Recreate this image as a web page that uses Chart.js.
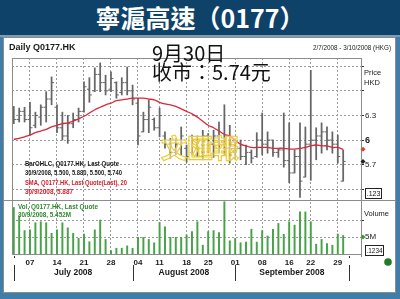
<!DOCTYPE html>
<html>
<head>
<meta charset="utf-8">
<script src="https://cdn.jsdelivr.net/npm/chart.js@4/dist/chart.umd.min.js"></script>
<style>
  body { margin:0; width:400px; height:299px; background:#3f7dab; overflow:hidden; position:relative; }
  #title { position:absolute; left:0; top:0; width:400px; height:35px; background:#0e4268; color:#fff;
           font:bold 25px "Noto Sans CJK TC", sans-serif; text-align:center; line-height:35px; border-bottom:2px solid #7c9db6; }
  #panel { position:absolute; left:3px; top:37px; width:391px; height:254px; background:#fff; border:1px solid #8c8c8c; }
  #chart { position:absolute; left:0; top:0; }
</style>
</head>
<body>
<div id="title">寧滬高速（0177）</div>
<div id="panel"></div>
<canvas id="chart" width="400" height="299"></canvas>
<script>
const code = 'Q0177.HK';
const watermark = '文匯報';

// trading days, d/m (2008)
const dates = [
  '2/7','3/7','4/7','7/7','8/7','9/7','10/7','11/7','14/7','15/7','16/7','17/7','18/7',
  '21/7','22/7','23/7','24/7','25/7','28/7','29/7','30/7','31/7',
  '1/8','4/8','5/8','7/8','8/8','11/8','12/8','13/8','14/8','15/8','18/8','19/8','20/8','21/8',
  '25/8','26/8','27/8','28/8','29/8',
  '1/9','2/9','3/9','4/9','5/9','8/9','9/9','10/9','11/9','12/9','16/9','17/9','18/9','19/9',
  '22/9','23/9','24/9','25/9','26/9','29/9','30/9'
];
const weekTicks = ['7/7','14/7','21/7','28/7','4/8','11/8','18/8','25/8','1/9','8/9','16/9','22/9','29/9'];
const months = ['July 2008', 'August 2008', 'September 2008'];

const open  = [6.30,6.25,6.35,6.25,6.18,6.28,6.40,6.50,6.40,6.15,6.05,6.20,6.25,6.35,6.62,6.60,6.80,6.70,6.62,6.70,6.58,6.70,
               6.60,6.45,6.10,6.25,6.25,6.15,6.05,5.95,5.85,5.95,5.90,5.85,6.00,5.90,6.05,5.95,6.05,5.95,5.90,
               5.85,5.90,5.80,5.85,5.80,6.00,5.95,6.00,5.85,5.88,5.75,5.60,5.80,5.55,5.95,6.00,6.05,6.10,6.00,5.95,5.50];
const high  = [6.41,6.39,6.40,6.46,6.34,6.43,6.59,6.77,6.43,6.34,6.30,6.33,6.39,6.71,6.76,6.88,6.94,6.79,6.83,6.71,6.76,6.89,
               6.67,6.51,6.34,6.49,6.27,6.39,6.10,6.02,6.02,6.16,5.94,6.06,6.05,6.12,6.08,6.12,6.22,6.43,6.18,
               5.98,6.00,5.94,5.88,6.09,6.33,6.10,6.00,5.90,6.33,6.21,5.88,6.21,6.16,6.85,6.15,6.21,6.16,6.10,6.06,5.88];
const low   = [6.20,6.22,6.22,6.06,6.15,6.18,6.22,6.43,6.09,6.00,5.96,6.15,6.22,6.34,6.46,6.59,6.59,6.55,6.59,6.51,6.55,6.55,
               6.43,5.94,6.10,6.09,6.12,6.04,5.90,5.78,5.82,5.82,5.73,5.82,5.80,5.76,5.85,5.79,5.84,5.82,5.72,
               5.78,5.76,5.70,5.72,5.79,5.82,5.84,5.80,5.79,5.67,5.48,5.60,5.30,5.55,5.51,5.76,5.84,5.88,5.84,5.72,5.50];
const close = [6.25,6.35,6.25,6.15,6.30,6.40,6.50,6.70,6.15,6.05,6.20,6.25,6.35,6.65,6.55,6.80,6.70,6.60,6.75,6.55,6.70,6.60,
               6.50,6.05,6.25,6.40,6.15,6.30,5.95,5.85,5.95,6.05,5.80,6.00,5.90,6.05,5.95,6.05,5.95,5.90,5.85,
               5.90,5.80,5.85,5.78,6.00,5.95,6.00,5.85,5.88,5.75,5.60,5.80,5.50,5.95,6.00,6.05,6.10,6.00,5.95,5.80,5.74];
const sma20 = [6.01,6.02,6.04,6.06,6.09,6.11,6.13,6.16,6.18,6.20,6.21,6.23,6.26,6.29,6.33,6.37,6.40,6.43,6.45,6.48,6.49,6.50,
               6.51,6.51,6.51,6.50,6.49,6.46,6.44,6.43,6.41,6.38,6.35,6.32,6.28,6.23,6.18,6.15,6.11,6.07,6.05,
               6.00,5.95,5.93,5.91,5.91,5.91,5.91,5.90,5.90,5.90,5.89,5.89,5.90,5.91,5.93,5.94,5.93,5.93,5.91,5.91,5.887];
// volume, millions of shares
const volume = [13.7,11.2,6.9,7.1,9.2,9.5,9.2,6.1,7.1,9.2,7.7,6.1,4.6,5.9,3.6,7.1,10.0,4.3,1.0,1.7,1.7,2.4,
                1.7,4.9,4.9,4.3,3.3,9.3,8.0,4.9,4.9,4.9,5.6,6.6,9.5,2.6,6.6,6.9,6.3,15.4,3.9,
                4.6,3.3,3.5,7.3,3.5,6.9,5.3,7.3,9.0,5.8,9.5,8.5,12.4,12.4,9.5,2.9,4.3,3.1,2.6,5.9,5.452];

const priceTicks  = [5.4, 5.7, 6.0, 6.3, 6.6, 6.9];
const priceLabels = ['', '5.7', '6', '6.3', '', ''];
const volTicks  = [5, 10];
const volLabels = ['5M', ''];

const idx = dates.map((d, i) => i);
const tickIdx = weekTicks.map(d => dates.indexOf(d));
const tickText = weekTicks.map(d => d.split('/')[0].padStart(2, '0'));
const lastDate = dates[dates.length - 1] + '/2008';

Chart.defaults.font.family = 'Arial, "Liberation Sans", sans-serif';
Chart.defaults.color = '#1a1a1a';

function txt(ctx, s, x, y, font, color, maxW, align) {
  ctx.font = font;
  ctx.fillStyle = color;
  ctx.textAlign = align || 'left';
  ctx.textBaseline = 'middle';
  if (maxW) ctx.fillText(s, x, y, maxW); else ctx.fillText(s, x, y);
}

function diamond(ctx, x, y, r, color) {
  ctx.fillStyle = color;
  ctx.beginPath();
  ctx.moveTo(x, y - r); ctx.lineTo(x + r, y); ctx.lineTo(x, y + r); ctx.lineTo(x - r, y);
  ctx.closePath();
  ctx.fill();
}

const decor = {
  id: 'decor',
  afterDatasetsDraw(chart) {
    const ctx = chart.ctx;
    ctx.save();
    ctx.font = 'bold 26px "Noto Sans CJK TC"';
    ctx.textBaseline = 'middle';
    ctx.fillStyle = 'rgba(255,255,255,0.55)';
    ctx.fillText(watermark, 161, 148);
    ctx.lineWidth = 1.1;
    ctx.strokeStyle = '#efcb2a';
    ctx.strokeText(watermark, 161, 148);
    ctx.restore();
  },
  afterDraw(chart) {
    const {ctx, chartArea: a, scales: {x, y, yv}} = chart;
    const n = close.length - 1;
    ctx.save();

    // frame lines
    ctx.strokeStyle = '#8c8c8c';
    ctx.lineWidth = 1;
    ctx.beginPath();
    ctx.moveTo(a.left + 0.5, a.top + 0.5); ctx.lineTo(a.right, a.top + 0.5);
    ctx.moveTo(a.left + 0.5, a.top); ctx.lineTo(a.left + 0.5, a.bottom);
    ctx.moveTo(4, Math.round(yv.top) + 0.5); ctx.lineTo(395, Math.round(yv.top) + 0.5);
    ctx.moveTo(a.right + 0.5, a.bottom); ctx.lineTo(a.right + 0.5, a.bottom + 3);
    ctx.stroke();

    // headers
    txt(ctx, 'Daily ' + code, 9, 48, 'bold 9px Arial', '#1a1a1a');
    txt(ctx, '2/7/2008 - 3/10/2008 (HKG)', 391, 48, '7px Arial', '#1a1a1a', 78, 'right');
    txt(ctx, 'Price', 364, 73, '7.5px Arial', '#1a1a1a');
    txt(ctx, 'HKD', 364, 83, '7.5px Arial', '#1a1a1a');
    txt(ctx, 'Volume', 364, 214, '7.5px Arial', '#1a1a1a');

    // study legends
    const f = 'bold 7.5px Arial';
    txt(ctx, 'BarOHLC, ' + code + ', Last Quote', 25, 164, f, '#1a1a1a', 94);
    txt(ctx, lastDate + ', ' + [open[n], high[n], low[n], close[n]].map(v => v.toFixed(3)).join(', '), 25, 173, f, '#1a1a1a', 97);
    txt(ctx, 'SMA, ' + code + ', Last Quote(Last), 20', 25, 183, f, '#d0202e', 102);
    txt(ctx, lastDate + ', ' + sma20[n].toFixed(3), 25, 192, f, '#d0202e', 48);
    txt(ctx, 'Vol, ' + code + ', Last Quote', 18, 207, f, '#2e8a2e', 80);
    txt(ctx, lastDate + ', ' + volume[n].toFixed(3) + 'M', 18, 215, f, '#2e8a2e', 53);

    // last-value markers on the right axis
    diamond(ctx, 363, y.getPixelForValue(sma20[n]), 2.5, '#e0402a');
    diamond(ctx, 363, y.getPixelForValue(close[n]), 2.5, '#222');
    diamond(ctx, 363, yv.getPixelForValue(5), 2.5, '#3a9a3a');

    // boxed readouts
    ctx.strokeStyle = '#222';
    ctx.strokeRect(365.5, 188.5, 16, 10);
    txt(ctx, '.123', 373.5, 194, '7px Arial', '#111', 14, 'center');
    ctx.strokeRect(365.5, 245.5, 18, 10);
    txt(ctx, '.1234', 374.5, 251, '7px Arial', '#111', 16, 'center');

    // month labels and separators
    const starts = months.map((m, k) => dates.findIndex(d => +d.split('/')[1] === 7 + k));
    starts.push(dates.length);
    ctx.strokeStyle = '#333';
    ctx.beginPath();
    starts.forEach(s => {
      const px = Math.round(x.getPixelForValue(s)) + 0.5;
      ctx.moveTo(px, 265); ctx.lineTo(px, 281);
    });
    [starts[0], starts[starts.length - 1]].forEach(s => {
      const px = Math.round(x.getPixelForValue(s)) + 0.5;
      ctx.moveTo(px, 256); ctx.lineTo(px, 258);
    });
    ctx.stroke();
    months.forEach((m, k) => {
      const cx = (x.getPixelForValue(starts[k]) + x.getPixelForValue(starts[k + 1])) / 2;
      txt(ctx, m, cx, 273, 'bold 8.5px Arial', '#1a1a1a', null, 'center');
    });

    // big overlay text
    ctx.fillStyle = '#111';
    ctx.font = '20px "Noto Sans CJK TC"';
    ctx.textAlign = 'left';
    ctx.textBaseline = 'alphabetic';
    ctx.fillText('9月30日', 152, 61);
    ctx.fillText('收市：' + close[n].toFixed(2) + '元', 152, 80);

    // status dot
    ctx.fillStyle = '#1f7a2a';
    ctx.beginPath();
    ctx.arc(388, 262, 3.8, 0, Math.PI * 2);
    ctx.fill();
    ctx.restore();
  }
};

new Chart(document.getElementById('chart').getContext('2d'), {
  type: 'bar',
  data: {
    datasets: [
      {
        type: 'line', label: 'SMA', yAxisID: 'y',
        data: idx.map(i => ({x: i, y: sma20[i]})),
        borderColor: '#d8283a', borderWidth: 1.3, pointRadius: 0, tension: 0.4
      },
      {
        type: 'line', label: 'open', yAxisID: 'y', showLine: false,
        data: idx.map(i => ({x: i - 0.22, y: open[i]})),
        pointStyle: 'line', pointRadius: 1.3, pointBorderWidth: 1, pointBorderColor: '#666'
      },
      {
        type: 'line', label: 'close', yAxisID: 'y', showLine: false,
        data: idx.map(i => ({x: i + 0.22, y: close[i]})),
        pointStyle: 'line', pointRadius: 1.3, pointBorderWidth: 1, pointBorderColor: '#666'
      },
      {
        type: 'bar', label: 'range', yAxisID: 'y', grouped: false,
        data: idx.map(i => ({x: i, y: [low[i], high[i]]})),
        backgroundColor: '#666', barThickness: 1.1
      },
      {
        type: 'bar', label: 'Vol', yAxisID: 'yv', grouped: false,
        data: idx.map(i => ({x: i, y: volume[i]})),
        backgroundColor: '#46a346', barThickness: 1.3
      }
    ]
  },
  options: {
    responsive: false,
    animation: false,
    events: [],
    layout: { padding: { left: 12, top: 58, right: 0, bottom: 0 } },
    plugins: { legend: { display: false }, tooltip: { enabled: false } },
    scales: {
      x: {
        type: 'linear', position: 'bottom', min: -0.33, max: 64.3, offset: false,
        afterBuildTicks: s => { s.ticks = tickIdx.map(v => ({value: v})); },
        afterFit: s => { s.height = 45; },
        grid: { offset: false, color: '#9a9a9a', drawTicks: false },
        border: { display: true, color: '#8c8c8c', dash: [2, 2] },
        ticks: {
          padding: 4, autoSkip: false, maxRotation: 0,
          font: { size: 8, weight: 'bold' }, color: '#1a1a1a',
          callback: v => tickText[tickIdx.indexOf(v)]
        }
      },
      y: {
        type: 'linear', position: 'right', stack: 'panes', stackWeight: 142,
        min: 5.27, max: 7.0,
        afterBuildTicks: s => { s.ticks = priceTicks.map(v => ({value: v})); },
        afterFit: s => { s.width = 39; },
        grid: { color: '#9a9a9a', tickLength: 3, tickColor: '#333' },
        border: { display: true, color: '#8c8c8c', dash: [2, 2] },
        ticks: {
          padding: 1, color: '#1a1a1a',
          font: c => (c.tick && c.tick.value === 6) ? {size: 9, weight: 'bold'} : {size: 8},
          callback: v => priceLabels[priceTicks.indexOf(v)]
        }
      },
      yv: {
        type: 'linear', position: 'right', stack: 'panes', stackWeight: 54,
        min: 0, max: 15.9,
        afterBuildTicks: s => { s.ticks = volTicks.map(v => ({value: v})); },
        afterFit: s => { s.width = 39; },
        grid: { color: '#9a9a9a', tickLength: 3, tickColor: '#333' },
        border: { display: true, color: '#8c8c8c', dash: [2, 2] },
        ticks: {
          padding: 1, color: '#1a1a1a', font: { size: 8 },
          callback: v => volLabels[volTicks.indexOf(v)]
        }
      }
    }
  },
  plugins: [decor]
});
</script>
</body>
</html>
